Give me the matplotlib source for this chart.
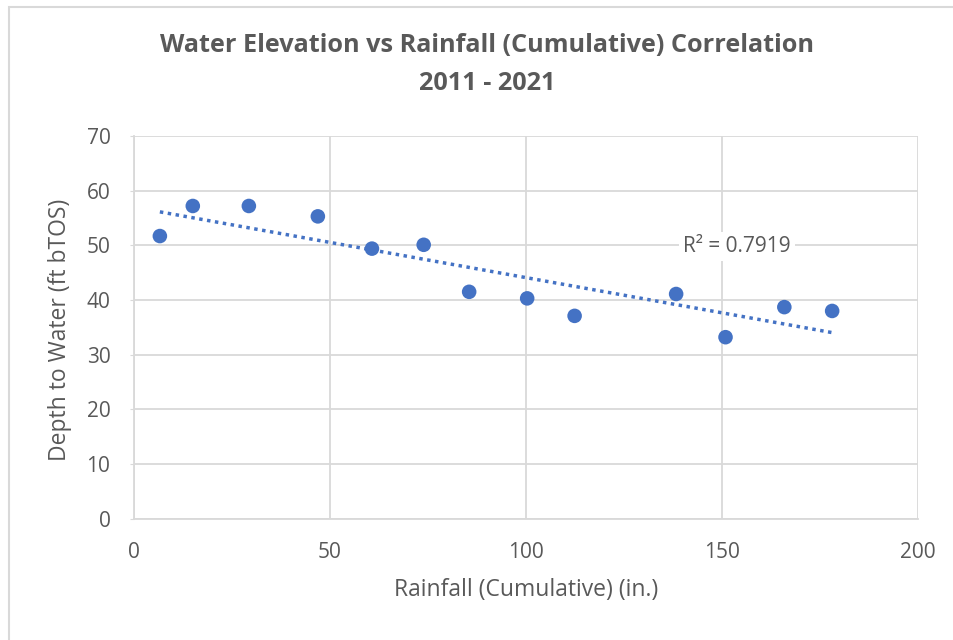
import numpy as np
import matplotlib
matplotlib.use("Agg")
import matplotlib.pyplot as plt
from matplotlib.patches import Rectangle

rainfall = [6.6, 15.0, 29.3, 46.9, 60.7, 73.9, 85.5, 100.3, 112.4, 138.3, 150.9, 165.9, 178.1]
depth = [51.7, 57.2, 57.2, 55.3, 49.4, 50.1, 41.5, 40.3, 37.1, 41.1, 33.2, 38.7, 38.0]
x_ticks = [0, 50, 100, 150, 200]
y_ticks = [0, 10, 20, 30, 40, 50, 60, 70]
title_line1 = "Water Elevation vs Rainfall (Cumulative) Correlation"
title_line2 = "2011 - 2021"
xlabel = "Rainfall (Cumulative) (in.)"
ylabel = "Depth to Water (ft bTOS)"
r2_label = "R² = 0.7919"

plt.rcParams['font.family'] = ['Open Sans', 'DejaVu Sans']
text_color = '#595959'
grid_color = '#d9d9d9'
marker_color = '#4472C4'

W, H = 954, 640
fig = plt.figure(figsize=(W / 100, H / 100), dpi=100)
fig.patches.append(Rectangle((9 / W, -0.1), 1.2, 1 - 7 / H + 0.1, transform=fig.transFigure,
                             fill=False, edgecolor='#d9d9d9', linewidth=1.5))
ax = fig.add_axes([134 / W, 1 - 518.7 / H, (918 - 134) / W, (518.7 - 136) / H])

ax.set_xlim(0, 200)
ax.set_ylim(0, 70)
ax.set_xticks(x_ticks)
ax.set_yticks(y_ticks)
ax.grid(True, color=grid_color, linewidth=1.3)
ax.set_axisbelow(True)
for s in ['top', 'right']:
    ax.spines[s].set_visible(False)
for s in ['left', 'bottom']:
    ax.spines[s].set_color(grid_color)
    ax.spines[s].set_linewidth(1.3)
ax.tick_params(axis='both', colors=text_color, labelsize=15, length=0)
ax.tick_params(axis='x', pad=17)
ax.tick_params(axis='y', length=3, color=grid_color, pad=14)

ax.scatter(rainfall, depth, s=110, color=marker_color, zorder=3, edgecolors='none')

# linear trend line
xa = np.array(rainfall)
ya = np.array(depth)
m, b = np.polyfit(xa, ya, 1)
xt = np.array([xa.min(), xa.max()])
ax.plot(xt, m * xt + b, linestyle=(0, (1, 1.3)), color=marker_color, linewidth=2.5, zorder=2)

ax.text(140.0, 49.8, r2_label, fontsize=15, color=text_color, ha='left', va='center',
        bbox=dict(facecolor='white', edgecolor='none', pad=3), zorder=4)

fig.text(526 / W, 1 - 590 / H, xlabel, ha='center', va='center', fontsize=16.5, color=text_color)
fig.text(60 / W, 1 - 330 / H, ylabel, ha='center', va='center', fontsize=16.5, color=text_color,
         rotation=90)
fig.text(487 / W, 1 - 46 / H, title_line1, ha='center', va='center', fontsize=18.2,
         fontweight='bold', color=text_color)
fig.text(487 / W, 1 - 84 / H, title_line2, ha='center', va='center', fontsize=18.2,
         fontweight='bold', color=text_color)

fig.savefig("out.png", dpi=100)
